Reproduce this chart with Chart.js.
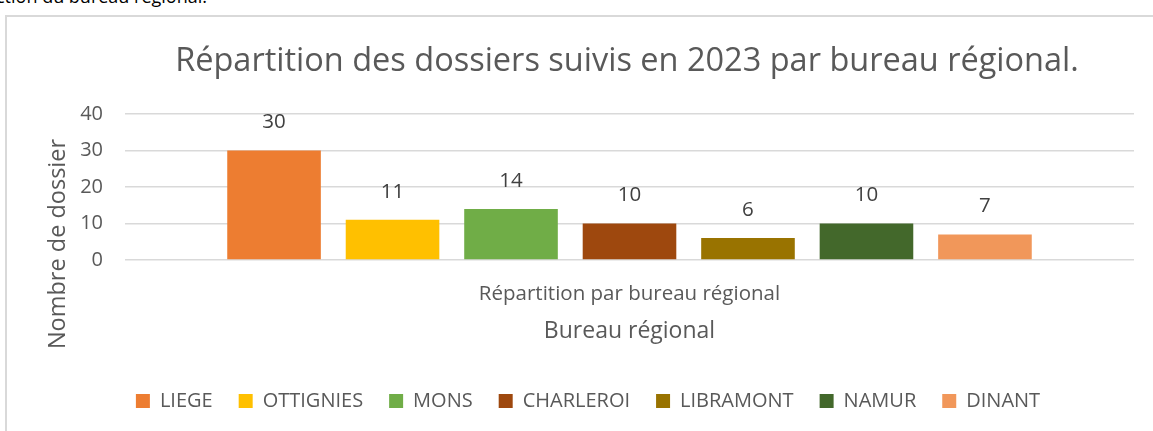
<!DOCTYPE html>
<html>
<head>
<meta charset="utf-8">
<script src="https://cdn.jsdelivr.net/npm/chart.js@4/dist/chart.umd.min.js"></script>
<style>
  body { margin: 0; background: #fff; width: 1153px; height: 431px; overflow: hidden; position: relative; font-family: "Open Sans", sans-serif; }
  #doc { position: absolute; left: -4px; top: -16px; font-size: 18px; color: #000; white-space: nowrap; }
  #frame { position: absolute; left: 5px; top: 15px; width: 1260px; height: 430px; border-left: 2px solid #d9d9d9; border-top: 2px solid #d9d9d9; }
  #wrap { position: absolute; left: 0; top: 0; width: 1220px; height: 414px; }
</style>
</head>
<body>
<div id="doc">ction du bureau régional.</div>
<div id="frame">
  <div id="wrap"><canvas id="chart1"></canvas></div>
</div>
<script>
var category = ["Répartition par bureau régional"];
var bureaux = ["LIEGE", "OTTIGNIES", "MONS", "CHARLEROI", "LIBRAMONT", "NAMUR", "DINANT"];
var dossiers = [30, 11, 14, 10, 6, 10, 7];
var yTicks = [0, 10, 20, 30, 40];
var palette = ["#ED7D31", "#FFC000", "#70AD47", "#9E480E", "#997300", "#43682B", "#F1975A"];

var font = "'Open Sans', sans-serif";

// value above each bar, like Excel's data labels
var valueLabels = {
  id: 'valueLabels',
  afterDatasetsDraw: function (chart) {
    var ctx = chart.ctx;
    ctx.save();
    ctx.fillStyle = "#404040";
    ctx.font = "20.5px " + font;
    ctx.textAlign = "center";
    ctx.textBaseline = "middle";
    chart.data.datasets.forEach(function (ds, i) {
      var bar = chart.getDatasetMeta(i).data[0];
      ctx.fillText(String(ds.data[0]), bar.x, bar.y - 28);
    });
    ctx.restore();
  }
};

// Excel put the y title lower than the middle of the axis
var yTitle = {
  id: 'yTitle',
  afterDraw: function (chart) {
    var ctx = chart.ctx;
    ctx.save();
    ctx.translate(chart.scales.y.left + 31, chart.chartArea.bottom - 16);
    ctx.rotate(-Math.PI / 2);
    ctx.fillStyle = "#595959";
    ctx.font = "23.5px " + font;
    ctx.textAlign = "center";
    ctx.textBaseline = "middle";
    ctx.fillText("Nombre de dossier", 0, 0);
    ctx.restore();
  }
};

// the legend sits a bit left of the chart centre in the original
var legendShift = {
  id: 'legendShift',
  afterLayout: function (chart) {
    chart.legend.left -= 39;
    chart.legend.right -= 39;
  }
};

new Chart(document.getElementById("chart1"), {
  type: 'bar',
  data: {
    labels: category,
    datasets: bureaux.map(function (name, i) {
      return {
        label: name,
        data: [dossiers[i]],
        backgroundColor: palette[i],
        borderWidth: 0,
        barPercentage: 0.79,
        categoryPercentage: 0.822
      };
    })
  },
  options: {
    responsive: true,
    maintainAspectRatio: false,
    animation: false,
    layout: { padding: { left: 20, right: 0, top: 0, bottom: 10 } },
    plugins: {
      title: {
        display: true,
        text: 'Répartition des dossiers suivis en 2023 par bureau régional.',
        color: '#595959',
        font: { family: font, size: 32.5, weight: 'normal' },
        padding: { top: 25, bottom: 33 }
      },
      legend: {
        position: 'bottom',
        labels: {
          color: '#595959',
          font: { family: font, size: 20 },
          boxWidth: 14,
          boxHeight: 14,
          padding: 26
        }
      },
      tooltip: { enabled: false }
    },
    scales: {
      x: {
        grid: { display: false, drawTicks: false },
        border: { display: false },
        ticks: { color: '#595959', font: { family: font, size: 20.5 }, padding: 22 },
        title: { display: true, text: 'Bureau régional', color: '#595959', font: { family: font, size: 23 }, padding: { top: 10, bottom: 20 } },
        afterFit: function (axis) { axis.height = 105; }
      },
      y: {
        min: 0,
        max: 40,
        afterBuildTicks: function (axis) {
          axis.ticks = yTicks.map(function (v) { return { value: v }; });
        },
        grid: { color: '#d9d9d9', lineWidth: 1.5, drawTicks: false },
        border: { display: false },
        ticks: { color: '#595959', font: { family: font, size: 20 }, padding: 22 },
        title: { display: false },
        afterFit: function (axis) { axis.width = 98; }
      },
      // empty axis on the right, only to keep the plot narrower than the title width
      yRight: {
        position: 'right',
        display: true,
        grid: { display: false, drawTicks: false },
        border: { display: false },
        ticks: { display: false },
        afterFit: function (axis) { axis.width = 93; }
      }
    }
  },
  plugins: [valueLabels, yTitle, legendShift]
});
</script>
</body>
</html>
